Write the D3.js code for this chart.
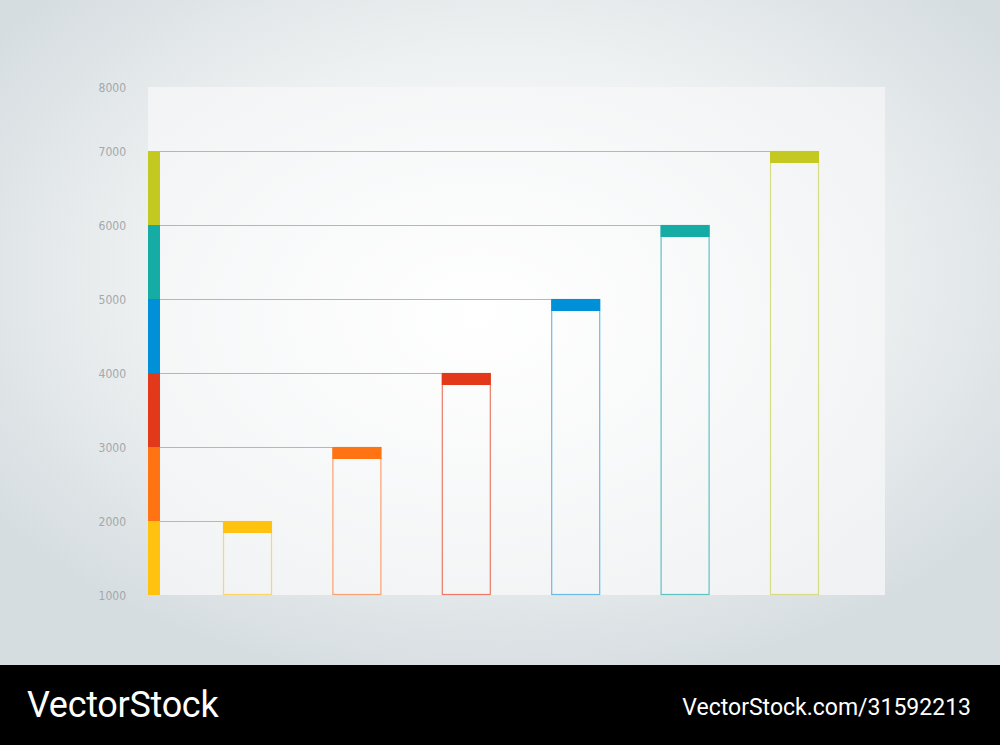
<!DOCTYPE html>
<html><head><meta charset="utf-8">
<script src="https://cdn.jsdelivr.net/npm/d3@7"></script>
<style>html,body{margin:0;padding:0;background:#fff;}svg{display:block;}</style>
</head><body>
<svg id="chart" width="1000" height="745"></svg>
<script>
const categories = ["A", "B", "C", "D", "E", "F"];
const values = [2000, 3000, 4000, 5000, 6000, 7000];
const colors = ["#FFC20E", "#FF7313", "#E2391B", "#0090D8", "#16ACA6", "#C3C920"];
const outlineColors = ["#FFD56A", "#F8A070", "#EC7A66", "#6BBBE6", "#5FC2C0", "#D8DC85"];
const tickValues = [1000, 2000, 3000, 4000, 5000, 6000, 7000, 8000];
const baseValue = 1000;

const svg = d3.select("#chart");
const W = 1000, H = 745;
const defs = svg.append("defs");
const bg = defs.append("radialGradient").attr("id","bg").attr("cx","0.5").attr("cy","0.42").attr("r","0.62");
bg.append("stop").attr("offset","0").attr("stop-color","#ffffff");
bg.append("stop").attr("offset","0.55").attr("stop-color","#eef1f2");
bg.append("stop").attr("offset","1").attr("stop-color","#d6dde0");
const pg = defs.append("radialGradient").attr("id","pg").attr("cx","0.45").attr("cy","0.45").attr("r","0.7");
pg.append("stop").attr("offset","0").attr("stop-color","#ffffff");
pg.append("stop").attr("offset","1").attr("stop-color","#f0f2f3");

svg.append("rect").attr("width",W).attr("height",665).attr("fill","url(#bg)");

const y = d3.scaleLinear().domain([1000, 7865]).range([595, 87]).clamp(true);
const x = d3.scalePoint().domain(categories).range([247.5, 794.5]);
const bw = 49;
const panelL = 148, panelR = 885, stripW = 12;

// panel
svg.append("rect").attr("x", panelL).attr("y", y(8000)).attr("width", panelR - panelL)
  .attr("height", y(baseValue) - y(8000)).attr("fill", "url(#pg)");

// axis labels
const axis = d3.axisLeft(y).tickValues(tickValues).tickSize(0).tickPadding(0).tickFormat(d3.format("d"));
const ag = svg.append("g").attr("transform", "translate(126,1)").call(axis);
ag.select(".domain").remove();
ag.selectAll("text").attr("fill", "#a3a8ac").style("font-family", "'Liberation Sans Narrow','DejaVu Sans Condensed',sans-serif")
  .style("font-size", "12px").style("font-weight", "300");

// left stacked strip
svg.selectAll(".seg").data(values).enter().append("rect")
  .attr("x", panelL).attr("width", stripW)
  .attr("y", d => y(d)).attr("height", (d, i) => y(i === 0 ? baseValue : values[i - 1]) - y(d))
  .attr("fill", (d, i) => colors[i]);

// connector lines
svg.selectAll(".conn").data(values).enter().append("line")
  .attr("x1", panelL + stripW).attr("x2", (d, i) => x(categories[i]) - bw / 2)
  .attr("y1", d => y(d) + 0.5).attr("y2", d => y(d) + 0.5)
  .attr("stroke", "#b3b7ba").attr("stroke-width", 1.2);

// bar outlines
svg.selectAll(".bar").data(values).enter().append("rect")
  .attr("x", (d, i) => x(categories[i]) - bw / 2 + 0.5).attr("width", bw - 1)
  .attr("y", d => y(d) + 0.5).attr("height", d => y(baseValue) - y(d) - 1)
  .attr("fill", "none").attr("stroke", (d, i) => outlineColors[i]).attr("stroke-width", 1.2);

// caps
const capH = 12;
svg.selectAll(".cap").data(values).enter().append("rect")
  .attr("x", (d, i) => x(categories[i]) - bw / 2).attr("width", bw)
  .attr("y", d => y(d)).attr("height", capH)
  .attr("fill", (d, i) => colors[i]);

// footer
svg.append("rect").attr("y", 665).attr("width", W).attr("height", 80).attr("fill", "#000");
svg.append("text").attr("x", 27).attr("y", 717).text("VectorStock")
  .attr("fill", "#fff").style("font-family", "Roboto, 'Liberation Sans', sans-serif").style("font-size", "36px").style("letter-spacing", "-0.3px");
svg.append("text").attr("x", 971).attr("y", 715).attr("text-anchor", "end").text("VectorStock.com/31592213")
  .attr("fill", "#fff").style("font-family", "Roboto, 'Liberation Sans', sans-serif").style("font-size", "23px").style("letter-spacing", "0px");
</script>
</body></html>
